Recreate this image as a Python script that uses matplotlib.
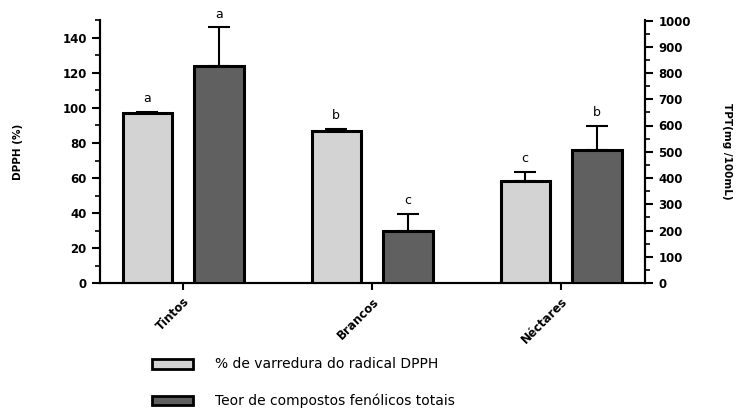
import numpy as np
import matplotlib.pyplot as plt
from matplotlib.patches import Patch

plt.rcParams['font.family'] = ['DejaVu Sans']

# data
categorias = ['Tintos', 'Brancos', 'Néctares']
dpph = [97, 87, 58.5]
dpph_err = [0.6, 1.0, 5.0]
tpt = [826, 198, 506]
tpt_err = [148, 65, 92]
letras_dpph = ['a', 'b', 'c']
letras_tpt = ['a', 'c', 'b']

cor_clara = '#d3d3d3'
cor_escura = '#606060'

fig = plt.figure(figsize=(7.39, 4.08), dpi=100)
ax = fig.add_axes([100/739, 125/408, 545/739, 262.5/408])
ax2 = ax.twinx()

x = np.arange(len(categorias))
w = 0.26
off = 0.19

ax.bar(x - off, dpph, w, color=cor_clara, edgecolor='black', linewidth=2.2, zorder=3)
ax.errorbar(x - off, dpph, yerr=[np.zeros(3), dpph_err], fmt='none', ecolor='black',
            elinewidth=1.5, capsize=8, capthick=1.5, zorder=2)
ax2.bar(x + off, tpt, w, color=cor_escura, edgecolor='black', linewidth=2.2, zorder=3)
ax2.errorbar(x + off, tpt, yerr=[np.zeros(3), tpt_err], fmt='none', ecolor='black',
             elinewidth=1.5, capsize=8, capthick=1.5, zorder=2)

for xi, v, e, l in zip(x, dpph, dpph_err, letras_dpph):
    ax.text(xi - off, v + e + 4, l, ha='center', va='bottom', fontsize=9)
for xi, v, e, l in zip(x, tpt, tpt_err, letras_tpt):
    ax2.text(xi + off, v + e + 25, l, ha='center', va='bottom', fontsize=9)

ax.set_xlim(-0.44, 2.444)
ax.set_ylim(0, 150)
ax2.set_ylim(0, 1000)

ax.set_yticks(np.arange(0, 141, 20))
ax.set_yticks(np.arange(0, 151, 10), minor=True)
ax2.set_yticks(np.arange(0, 1001, 100))
ax2.set_yticks(np.arange(0, 1001, 50), minor=True)

ax.set_xticks(x)
ax.set_xticklabels(categorias, rotation=45, ha='right', rotation_mode='anchor',
                   fontweight='bold', fontsize=8.5)

for a in (ax, ax2):
    a.spines['top'].set_visible(False)
    for s in ('left', 'right', 'bottom'):
        a.spines[s].set_linewidth(1.5)
    a.tick_params(which='major', length=6, width=1.5, labelsize=8.5)
    a.tick_params(which='minor', length=3.5, width=1.2)
    for t in a.get_yticklabels():
        t.set_fontweight('bold')
ax.tick_params(axis='x', length=5, width=1.5)

ax.set_ylabel('DPPH (%)', fontsize=7.5, fontweight='bold', va='center')
ax.yaxis.set_label_coords(-0.151, 0.5)
ax2.set_ylabel('TPT(mg /100mL)', fontsize=7.5, fontweight='bold', rotation=-90,
               va='center')
ax2.yaxis.set_label_coords(1.150, 0.5)

handles = [Patch(facecolor=cor_clara, edgecolor='black', linewidth=2),
           Patch(facecolor=cor_escura, edgecolor='black', linewidth=2)]
fig.legend(handles, ['% de varredura do radical DPPH', 'Teor de compostos fenólicos totais'],
           loc='upper left', bbox_to_anchor=(139/739, 1 - 345/408), frameon=False,
           fontsize=10, handlelength=3.0, handleheight=0.7, handletextpad=1.6,
           labelspacing=1.6)

fig.savefig('out.png', dpi=100)
